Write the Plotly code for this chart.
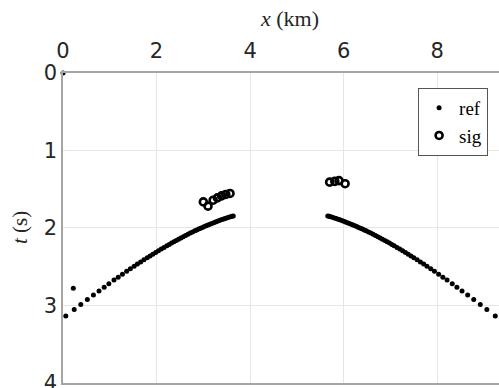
import plotly.graph_objects as go

# Reflection traveltimes (reference picks), left and right branches
ref_left_x = [0.06, 0.24, 0.38, 0.52, 0.65, 0.77, 0.88, 0.98, 1.09, 1.18, 1.27, 1.36, 1.44, 1.52,
              1.59, 1.66, 1.73, 1.80, 1.86, 1.92, 1.98, 2.04, 2.10, 2.16, 2.22, 2.27, 2.32, 2.37,
              2.42, 2.47, 2.52, 2.57, 2.62, 2.67, 2.72, 2.77, 2.82, 2.86, 2.90, 2.94, 2.98, 3.02,
              3.06, 3.10, 3.14, 3.18, 3.22, 3.26, 3.30, 3.34, 3.38, 3.42, 3.46, 3.50, 3.54, 3.58,
              3.61, 3.64]
ref_left_t = [3.140, 3.055, 2.991, 2.927, 2.868, 2.815, 2.766, 2.723, 2.675, 2.637, 2.599, 2.562,
              2.529, 2.496, 2.468, 2.440, 2.413, 2.386, 2.363, 2.340, 2.318, 2.296, 2.274, 2.253,
              2.231, 2.214, 2.197, 2.180, 2.163, 2.147, 2.131, 2.115, 2.099, 2.084, 2.068, 2.054,
              2.039, 2.028, 2.016, 2.005, 1.994, 1.984, 1.973, 1.963, 1.953, 1.943, 1.933, 1.924,
              1.915, 1.906, 1.897, 1.889, 1.880, 1.872, 1.864, 1.857, 1.851, 1.846]

ref_right_x = [5.66, 5.69, 5.72, 5.76, 5.80, 5.84, 5.88, 5.92, 5.96, 6.00, 6.04, 6.08, 6.12, 6.16,
               6.20, 6.24, 6.28, 6.32, 6.36, 6.40, 6.44, 6.48, 6.53, 6.58, 6.63, 6.68, 6.73, 6.78,
               6.83, 6.88, 6.93, 6.98, 7.03, 7.08, 7.14, 7.20, 7.26, 7.32, 7.38, 7.44, 7.50, 7.57,
               7.64, 7.71, 7.78, 7.86, 7.94, 8.03, 8.12, 8.21, 8.32, 8.42, 8.53, 8.65, 8.78, 8.92,
               9.06, 9.24]
ref_right_t = [1.846, 1.851, 1.857, 1.864, 1.872, 1.880, 1.889, 1.897, 1.906, 1.915, 1.924, 1.933,
               1.943, 1.953, 1.963, 1.973, 1.984, 1.994, 2.005, 2.016, 2.028, 2.039, 2.054, 2.068,
               2.084, 2.099, 2.115, 2.131, 2.147, 2.163, 2.180, 2.197, 2.214, 2.231, 2.253, 2.274,
               2.296, 2.318, 2.340, 2.363, 2.386, 2.413, 2.440, 2.468, 2.496, 2.529, 2.562, 2.599,
               2.637, 2.675, 2.723, 2.766, 2.815, 2.868, 2.927, 2.991, 3.055, 3.140]

# Isolated reference picks
ref_extra_x = [0.0, 0.22]
ref_extra_t = [0.0, 2.78]

# Signal picks
sig_x = [3.00, 3.10, 3.21, 3.30, 3.39, 3.48, 3.57, 5.70, 5.81, 5.90, 6.03]
sig_t = [1.665, 1.720, 1.643, 1.613, 1.587, 1.569, 1.556, 1.410, 1.400, 1.390, 1.430]

x_ticks = [0, 2, 4, 6, 8]
t_ticks = [0, 1, 2, 3, 4]

ref_x = ref_extra_x + ref_left_x + ref_right_x
ref_t = ref_extra_t + ref_left_t + ref_right_t

fig = go.Figure()
fig.add_trace(go.Scatter(
    x=ref_x, y=ref_t, mode="markers", name="ref", cliponaxis=False,
    marker=dict(color="black", size=5, line=dict(width=0)),
))
fig.add_trace(go.Scatter(
    x=sig_x, y=sig_t, mode="markers", name="sig", cliponaxis=False,
    marker=dict(symbol="circle-open", color="black", size=7, line=dict(width=2.6, color="black")),
))

serif = "Liberation Serif"
sans = "DejaVu Sans"

fig.update_layout(
    width=499, height=388,
    margin=dict(l=63, r=0, t=73, b=5),
    paper_bgcolor="white", plot_bgcolor="white",
    showlegend=True,
    legend=dict(
        x=0.975, y=0.952, xanchor="right", yanchor="top",
        bgcolor="white", bordercolor="#555555", borderwidth=1,
        font=dict(family=serif, size=19, color="black"),
        itemwidth=30, tracegroupgap=0,
    ),
    xaxis=dict(
        side="top", range=[0, 9.32], tickvals=x_ticks, automargin=False,
        showgrid=True, gridcolor="#e6e6e6", gridwidth=1,
        showline=True, linecolor="#a6a6a6", linewidth=1.5, mirror=True,
        ticks="", zeroline=False, ticklabelstandoff=5,
        ticklabeloverflow="allow",
        tickfont=dict(family=sans, size=21, color="#262626"),
    ),
    yaxis=dict(
        range=[4.004, 0], tickvals=t_ticks, automargin=False,
        showgrid=True, gridcolor="#e6e6e6", gridwidth=1,
        showline=True, linecolor="#a6a6a6", linewidth=1.5,
        ticks="", zeroline=False, ticklabeloverflow="allow",
        tickfont=dict(family=sans, size=21, color="#262626"),
    ),
    annotations=[
        dict(text="<i>x</i> (km)", xref="paper", yref="paper", x=0.52, y=1.0,
             yshift=55, showarrow=False, xanchor="center", yanchor="middle",
             font=dict(family=serif, size=22, color="#262626")),
        dict(text="<i>t</i> (s)", xref="paper", yref="paper", x=0.0, y=0.5,
             xshift=-43, textangle=-90, showarrow=False, xanchor="center", yanchor="middle",
             font=dict(family=serif, size=21, color="#262626")),
    ],
)

fig.write_html("out.html")
